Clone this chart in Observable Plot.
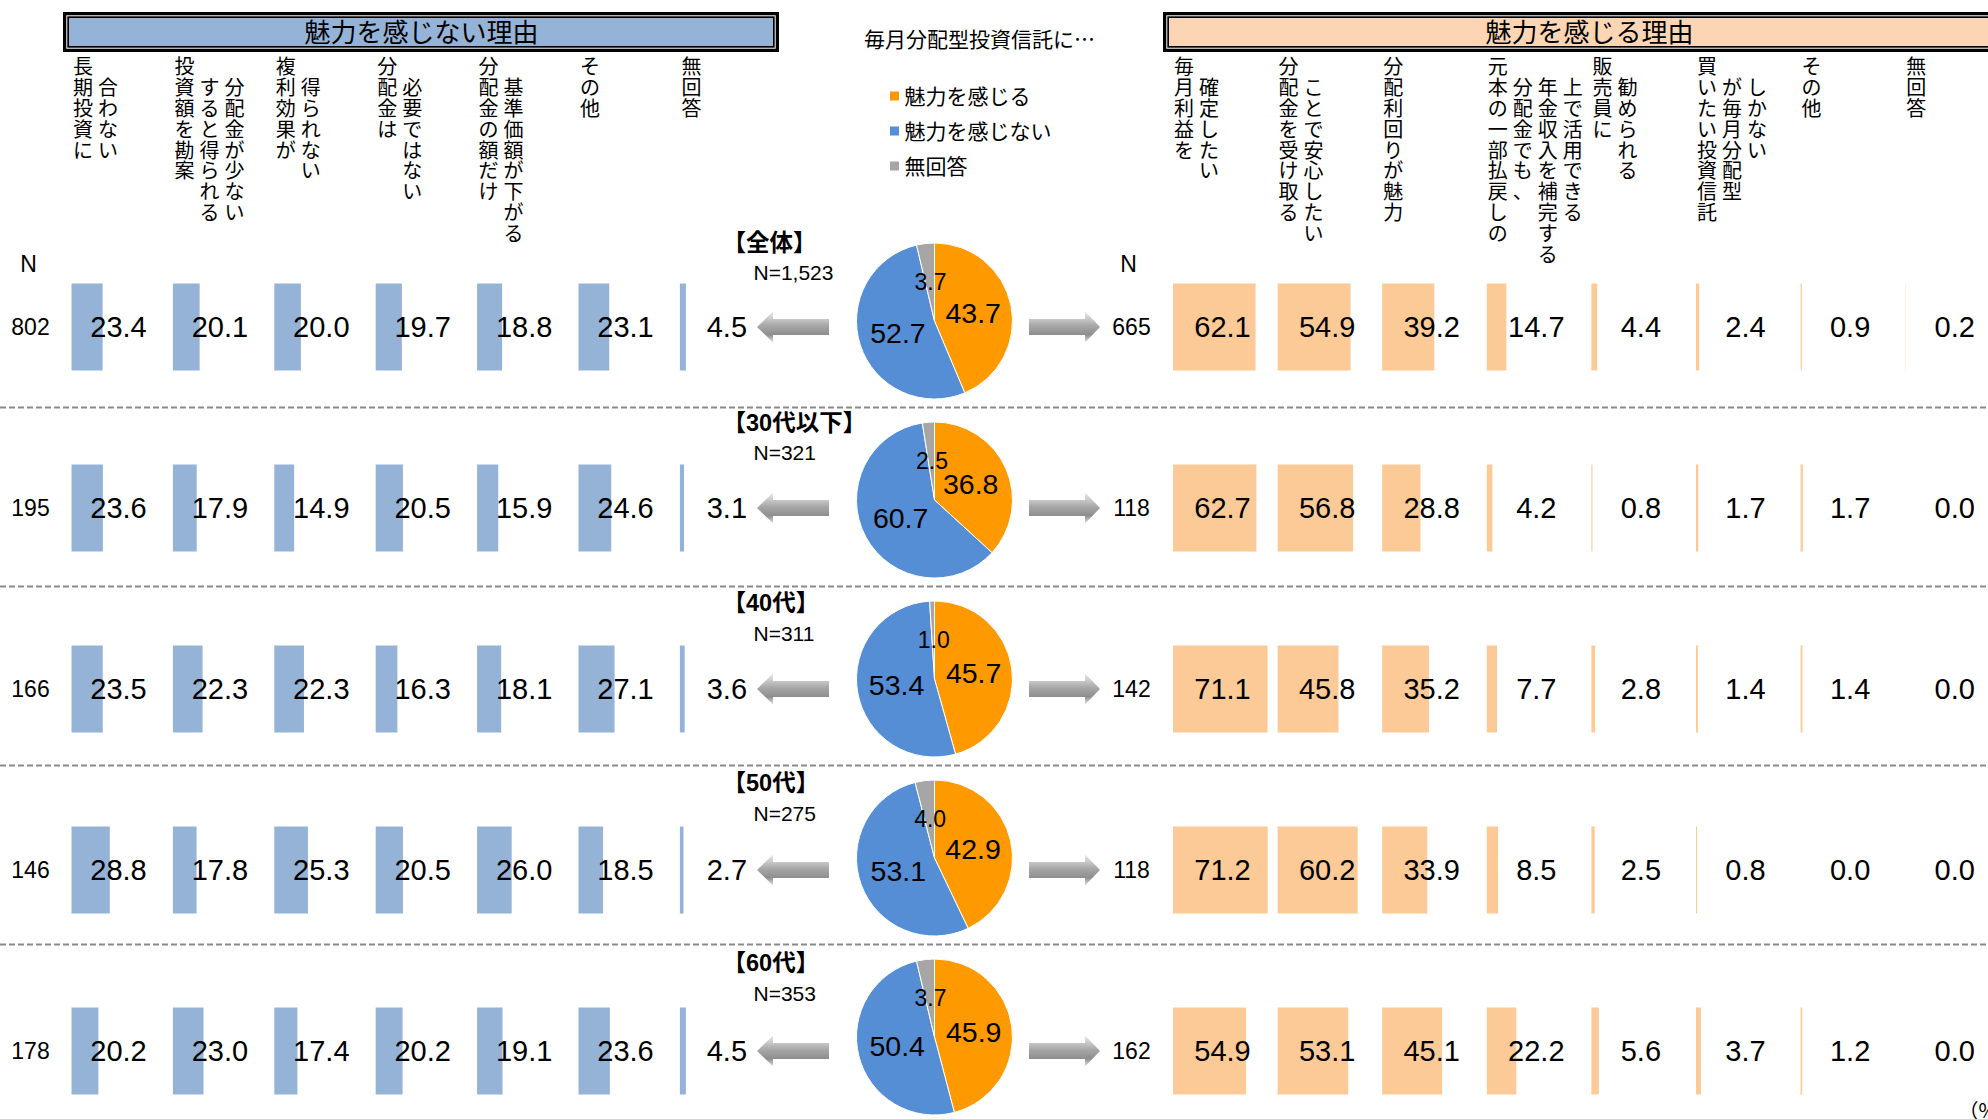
<!DOCTYPE html>
<html>
<head>
<meta charset="utf-8">
<script src="https://cdn.jsdelivr.net/npm/d3@7"></script>
<script src="https://cdn.jsdelivr.net/npm/@observablehq/plot@0.6"></script>
<style>
  html, body { margin: 0; padding: 0; background: #fff; overflow: hidden; }
  #chart svg { display: block; overflow: hidden; }
</style>
</head>
<body>
<div id="chart"></div>
<script>
// ---------------- DATA ----------------
const rows = ["全体", "30代以下", "40代", "50代", "60代"];
const rowN = [1523, 321, 311, 275, 353];

const pieKeys = ["魅力を感じる", "魅力を感じない", "無回答"];
const pieValues = [
  [43.7, 52.7, 3.7],
  [36.8, 60.7, 2.5],
  [45.7, 53.4, 1.0],
  [42.9, 53.1, 4.0],
  [45.9, 50.4, 3.7]
];

const notTitle = "魅力を感じない理由";
const notLabels = [
  ["長期投資に", "合わない"],
  ["投資額を勘案", "すると得られる", "分配金が少ない"],
  ["複利効果が", "得られない"],
  ["分配金は", "必要ではない"],
  ["分配金の額だけ", "基準価額が下がる"],
  ["その他"],
  ["無回答"]
];
const notN = [802, 195, 166, 146, 178];
const notValues = [
  [23.4, 20.1, 20.0, 19.7, 18.8, 23.1, 4.5],
  [23.6, 17.9, 14.9, 20.5, 15.9, 24.6, 3.1],
  [23.5, 22.3, 22.3, 16.3, 18.1, 27.1, 3.6],
  [28.8, 17.8, 25.3, 20.5, 26.0, 18.5, 2.7],
  [20.2, 23.0, 17.4, 20.2, 19.1, 23.6, 4.5]
];

const attrTitle = "魅力を感じる理由";
const attrLabels = [
  ["毎月利益を", "確定したい"],
  ["分配金を受け取る", "ことで安心したい"],
  ["分配利回りが魅力"],
  ["元本の一部払戻しの", "分配金でも、", "年金収入を補完する", "上で活用できる"],
  ["販売員に", "勧められる"],
  ["買いたい投資信託", "が毎月分配型", "しかない"],
  ["その他"],
  ["無回答"]
];
const attrN = [665, 118, 142, 118, 162];
const attrValues = [
  [62.1, 54.9, 39.2, 14.7, 4.4, 2.4, 0.9, 0.2],
  [62.7, 56.8, 28.8, 4.2, 0.8, 1.7, 1.7, 0.0],
  [71.1, 45.8, 35.2, 7.7, 2.8, 1.4, 1.4, 0.0],
  [71.2, 60.2, 33.9, 8.5, 2.5, 0.8, 0.0, 0.0],
  [54.9, 53.1, 45.1, 22.2, 5.6, 3.7, 1.2, 0.0]
];

const centerTitle = "毎月分配型投資信託に…";
const nHeader = "N";
const unitLabel = "（%）";

// ---------------- LAYOUT & STYLE ----------------
const W = 1988, H = 1119;
const U = 1.33;                 // px per percentage point on the x scale
const u = px => px / U;         // layout px -> x-scale units
const rowY = r => 327 + r * 181;
const pieY = r => 321 + r * 179;
const rowLabelY = r => 243 + r * 180;
const rowNY = r => 273 + r * 180.25;
const sepY = r => 407 + r * 179;
const notX = i => 71.5 + i * 101.4;
const attrX = i => 1173 + i * 104.6;
const PIE_CX = 934.5, PIE_R = 78;
const BAR_H = 87;
const LABEL_TOP = 67, PITCH = 20.9, LINE_GAP = 25;

const NOT_COLOR = "#95B3D7";
const ATTR_COLOR = "#FCCA96";
const ATTR_HEAD = "#FCD5B5";
const pieColors = ["#FF9900", "#558ED5", "#A6A6A6"];
const NUM_FONT = "'Liberation Sans', Arial, 'Noto Sans CJK JP', sans-serif";
const JP_FONT = "'Noto Sans CJK JP', 'Noto Sans CJK SC', sans-serif";

// ---------------- DERIVED TABLES ----------------
const notBars = rows.flatMap((_, r) => notValues[r].map((v, i) => ({r, i, v})));
const attrBars = rows.flatMap((_, r) => attrValues[r].map((v, i) => ({r, i, v})));

// stacked (vertical) labels: one cell per character
function charCells(labels, xOf, dx) {
  return labels.flatMap((lines, i) => lines.flatMap((line, j) =>
    Array.from(line).map((ch, k) => ({
      ch,
      x: xOf(i) + dx + j * LINE_GAP,
      y: LABEL_TOP + (k + (j > 0 ? 1 : 0)) * PITCH
    }))));
}
const notChars = charCells(notLabels, notX, 11);
const attrChars = charCells(attrLabels, attrX, 10.5);

const pieArc = d3.arc().innerRadius(0).outerRadius(PIE_R);
const pieLabels = rows.flatMap((_, r) => {
  const arcs = d3.pie().sort(null)(pieValues[r]);
  return arcs.map((a, k) => {
    const [cx, cy] = pieArc.centroid(a);
    return {r, k, v: pieValues[r][k], cx, cy};
  });
});

const sx = (scales, v) => (scales && typeof scales.x === "function") ? scales.x(v) : v * U;
const sy = (scales, v) => (scales && typeof scales.y === "function") ? scales.y(v) : v;

// pies
const pieMark = (index, scales) => {
  const g = d3.create("svg:g");
  rows.forEach((_, r) => {
    const cx = sx(scales, u(PIE_CX)), cy = sy(scales, pieY(r));
    const arcs = d3.pie().sort(null)(pieValues[r]);
    g.append("g")
      .attr("transform", `translate(${cx},${cy})`)
      .selectAll("path").data(arcs).join("path")
      .attr("d", pieArc)
      .attr("fill", (d, k) => pieColors[k])
      .attr("stroke", "#fff")
      .attr("stroke-width", 1);
  });
  return g.node();
};

// arrows
const arrowMark = (index, scales) => {
  const g = d3.create("svg:g");
  const grad = g.append("defs").append("linearGradient")
    .attr("id", "arrowGrad").attr("x1", 0).attr("y1", 0).attr("x2", 0).attr("y2", 1);
  [[0, "#ececec"], [0.45, "#a8a8a8"], [0.75, "#8e8e8e"], [1, "#e2e2e2"]].forEach(([o, c]) =>
    grad.append("stop").attr("offset", o).attr("stop-color", c));
  rows.forEach((_, r) => {
    const cy = sy(scales, rowY(r));
    const hh = 15.5, sh = 8;
    const lt = sx(scales, u(757)), lb = sx(scales, u(773)), le = sx(scales, u(829));
    g.append("path").attr("fill", "url(#arrowGrad)")
      .attr("d", `M${lt},${cy}L${lb},${cy - hh}L${lb},${cy - sh}L${le},${cy - sh}L${le},${cy + sh}L${lb},${cy + sh}L${lb},${cy + hh}Z`);
    const rs = sx(scales, u(1029)), rb = sx(scales, u(1085)), rt = sx(scales, u(1100));
    g.append("path").attr("fill", "url(#arrowGrad)")
      .attr("d", `M${rt},${cy}L${rb},${cy - hh}L${rb},${cy - sh}L${rs},${cy - sh}L${rs},${cy + sh}L${rb},${cy + sh}L${rb},${cy + hh}Z`);
  });
  return g.node();
};

const chart = Plot.plot({
  width: W,
  height: H,
  margin: 0,
  x: {axis: null, domain: [0, W / U], range: [0, W]},
  y: {axis: null, domain: [0, H], range: [0, H]},
  style: {background: "#fff", color: "#000", overflow: "hidden"},
  marks: [
    // header boxes
    Plot.rect([notTitle], {x1: u(64.65), x2: u(777.35), y1: 13.65, y2: 50.35, fill: "none", stroke: "#000", strokeWidth: 3.3}),
    Plot.rect([notTitle], {x1: u(68.15), x2: u(773.85), y1: 17.15, y2: 46.85, fill: NOT_COLOR, stroke: "#000", strokeWidth: 1.7}),
    Plot.rect([attrTitle], {x1: u(1164.65), x2: u(2030), y1: 13.65, y2: 50.35, fill: "none", stroke: "#000", strokeWidth: 3.3}),
    Plot.rect([attrTitle], {x1: u(1168.15), x2: u(2026), y1: 17.15, y2: 46.85, fill: ATTR_HEAD, stroke: "#000", strokeWidth: 1.7}),
    Plot.text([notTitle], {x: u(421), y: 33, text: d => d, fontSize: 26, fontFamily: JP_FONT}),
    Plot.text([attrTitle], {x: u(1589), y: 33, text: d => d, fontSize: 26, fontFamily: JP_FONT}),

    // center title + legend
    Plot.text([centerTitle], {x: u(979), y: 40, text: d => d, fontSize: 21, fontFamily: JP_FONT}),
    Plot.rect(pieKeys, {x1: u(890), x2: u(899), y1: (d, i) => 91.5 + i * 35, y2: (d, i) => 100.5 + i * 35, fill: (d, i) => pieColors[i]}),
    Plot.text(pieKeys, {x: u(904), y: (d, i) => 97 + i * 35, text: d => d, textAnchor: "start", fontSize: 21, fontFamily: JP_FONT}),

    // vertical category labels
    Plot.text(notChars, {x: d => u(d.x), y: "y", text: "ch", fontSize: 20, fontFamily: JP_FONT}),
    Plot.text(attrChars, {x: d => u(d.x), y: "y", text: "ch", fontSize: 20, fontFamily: JP_FONT}),

    // N headers
    Plot.text([nHeader], {x: u(28), y: 264, text: d => d, fontSize: 23, fontFamily: NUM_FONT}),
    Plot.text([nHeader], {x: u(1128), y: 264, text: d => d, fontSize: 23, fontFamily: NUM_FONT}),

    // separators
    Plot.ruleY(rows.slice(0, -1).map((_, r) => sepY(r)), {stroke: "#8a8a8a", strokeWidth: 2, strokeDasharray: "6,3"}),

    // bars
    Plot.rect(notBars, {
      x1: d => u(notX(d.i)), x2: d => u(notX(d.i)) + d.v,
      y1: d => rowY(d.r) - BAR_H / 2, y2: d => rowY(d.r) + BAR_H / 2,
      fill: NOT_COLOR
    }),
    Plot.rect(attrBars, {
      x1: d => u(attrX(d.i)), x2: d => u(attrX(d.i)) + d.v,
      y1: d => rowY(d.r) - BAR_H / 2, y2: d => rowY(d.r) + BAR_H / 2,
      fill: ATTR_COLOR
    }),
    Plot.text(notBars, {x: d => u(notX(d.i) + 46.5), y: d => rowY(d.r), text: d => d.v.toFixed(1), fontSize: 29, fontFamily: NUM_FONT}),
    Plot.text(attrBars, {x: d => u(attrX(d.i) + 49), y: d => rowY(d.r), text: d => d.v.toFixed(1), fontSize: 29, fontFamily: NUM_FONT}),

    // N values
    Plot.text(notN, {x: u(30), y: (d, i) => rowY(i), text: d => String(d), fontSize: 23, fontFamily: NUM_FONT}),
    Plot.text(attrN, {x: u(1131), y: (d, i) => rowY(i), text: d => String(d), fontSize: 23, fontFamily: NUM_FONT}),

    // row labels
    Plot.text(rows, {x: u(722), y: (d, i) => rowLabelY(i), text: d => `【${d}】`, textAnchor: "start", fontSize: 23.5, fontWeight: "bold", fontFamily: NUM_FONT}),
    Plot.text(rowN, {x: u(753), y: (d, i) => rowNY(i), text: d => "N=" + d3.format(",")(d), textAnchor: "start", fontSize: 21, fontFamily: NUM_FONT}),

    // arrows & pies
    arrowMark,
    pieMark,
    Plot.text(pieLabels.filter(d => d.k < 2), {x: d => u(PIE_CX + d.cx), y: d => pieY(d.r) + d.cy, text: d => d.v.toFixed(1), fontSize: 28.5, fontFamily: NUM_FONT}),
    Plot.text(pieLabels.filter(d => d.k === 2), {x: d => u(PIE_CX + d.cx), y: d => pieY(d.r) + d.cy, text: d => d.v.toFixed(1), fontSize: 23, fontFamily: NUM_FONT}),

    // unit
    Plot.text([unitLabel], {x: u(1958), y: 1111, text: d => d, textAnchor: "start", fontSize: 20, fontFamily: JP_FONT})
  ]
});

document.getElementById("chart").appendChild(chart);
</script>
</body>
</html>
